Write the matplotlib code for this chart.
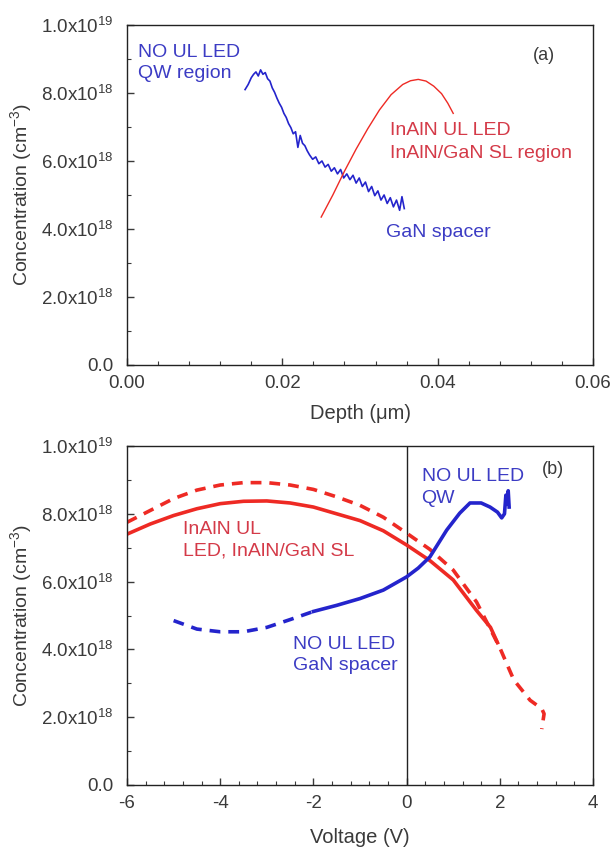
import numpy as np
import matplotlib.pyplot as plt
import matplotlib as mpl
from matplotlib.ticker import FuncFormatter, MultipleLocator

# ======================
# 全局风格
# ======================
mpl.rcParams["font.family"] = ["Liberation Sans", "DejaVu Sans"]
mpl.rcParams["mathtext.fontset"] = "custom"
mpl.rcParams["mathtext.rm"] = "Liberation Sans"
mpl.rcParams["mathtext.it"] = "Liberation Sans:italic"
mpl.rcParams["font.size"] = 13
mpl.rcParams["axes.linewidth"] = 1.0
mpl.rcParams["axes.unicode_minus"] = False

# ======================
# 数据 (a) depth profile
# ======================
depth_noul = [0.0152, 0.0156, 0.0160, 0.0163, 0.0166, 0.0169, 0.0172, 0.0175, 0.0178, 0.0181,
              0.0184, 0.0187, 0.0190, 0.0193, 0.0196, 0.0199, 0.0202, 0.0205, 0.0208, 0.0211,
              0.0214, 0.0217, 0.0220, 0.0223, 0.0226, 0.0229, 0.0232, 0.0235, 0.0239, 0.0243,
              0.0247, 0.0251, 0.0255, 0.0259, 0.0263, 0.0267, 0.0271, 0.0275, 0.0279, 0.0283,
              0.0287, 0.0291, 0.0295, 0.0299, 0.0303, 0.0307, 0.0311, 0.0315, 0.0319, 0.0323,
              0.0327, 0.0331, 0.0335, 0.0339, 0.0343, 0.0347, 0.0351, 0.0354, 0.0357]
conc_noul = [8.10, 8.25, 8.45, 8.55, 8.62, 8.50, 8.68, 8.55, 8.60, 8.42,
             8.35, 8.15, 8.02, 7.85, 7.70, 7.58, 7.40, 7.28, 7.10, 6.98,
             6.80, 6.86, 6.40, 6.75, 6.52, 6.45, 6.30, 6.18, 6.05, 6.12,
             5.92, 6.00, 5.82, 5.90, 5.70, 5.80, 5.62, 5.75, 5.50, 5.62,
             5.45, 5.58, 5.35, 5.50, 5.25, 5.38, 5.10, 5.25, 4.98, 5.12,
             4.85, 5.00, 4.75, 4.92, 4.65, 4.85, 4.55, 4.95, 4.60]

depth_inaln = [0.0250, 0.0265, 0.0280, 0.0295, 0.0310, 0.0325, 0.0340, 0.0355,
               0.0365, 0.0375, 0.0385, 0.0395, 0.0405, 0.0413, 0.0420]
conc_inaln = [4.35, 5.00, 5.70, 6.35, 6.95, 7.50, 7.95, 8.25,
              8.36, 8.40, 8.35, 8.20, 7.98, 7.70, 7.40]

# ======================
# 数据 (b) C-V profile
# ======================
v_inaln = [-6.0, -5.5, -5.0, -4.5, -4.0, -3.5, -3.0, -2.5, -2.0, -1.5,
           -1.0, -0.5, 0.0, 0.5, 1.0, 1.5, 1.8, 1.95]
c_inaln = [7.40, 7.70, 7.95, 8.15, 8.30, 8.37, 8.38, 8.32, 8.20, 8.00,
           7.80, 7.50, 7.08, 6.62, 6.05, 5.15, 4.65, 4.20]

v_inaln_d = [-6.0, -5.5, -5.0, -4.5, -4.0, -3.5, -3.0, -2.5, -2.0, -1.5,
             -1.0, -0.5, 0.0, 0.5, 1.0, 1.5, 2.0, 2.3, 2.65, 2.9, 2.95, 2.9]
c_inaln_d = [7.75, 8.10, 8.45, 8.70, 8.85, 8.92, 8.92, 8.85, 8.72, 8.50,
             8.25, 7.90, 7.43, 6.95, 6.34, 5.40, 4.05, 3.10, 2.50, 2.25, 2.10, 1.65]

v_noul_d = [-5.0, -4.5, -4.0, -3.5, -3.0, -2.5, -2.0]
c_noul_d = [4.85, 4.60, 4.52, 4.52, 4.65, 4.88, 5.12]

v_noul = [-2.0, -1.5, -1.0, -0.5, 0.0, 0.25, 0.5, 0.86, 1.14, 1.36,
          1.6, 1.79, 1.95, 2.04, 2.1, 2.13, 2.15, 2.18, 2.2]
c_noul = [5.12, 5.30, 5.50, 5.75, 6.14, 6.40, 6.73, 7.52, 8.02, 8.32,
          8.32, 8.20, 8.05, 7.88, 8.00, 8.55, 8.30, 8.68, 8.20]

blue = "#2424CC"
red = "#EE2A24"
blue_txt = "#3C3CC4"
red_txt = "#D43A48"
tick_col = "#3a3a3a"


def sci_fmt(v, pos):
    if abs(v) < 1e10:
        return "0.0"
    if v < 0:
        return ""
    e = int(np.floor(np.log10(v) + 1e-9))
    m = v / 10 ** e
    return r"%.1fx10$^{%d}$" % (m, e)


def style_axis(ax):
    ax.tick_params(which="both", direction="in", top=False, right=False,
                   colors=tick_col, labelcolor=tick_col, labelsize=13.5)
    ax.tick_params(which="major", length=5, width=1)
    ax.tick_params(which="minor", length=3, width=0.8)
    ax.tick_params(axis="x", pad=7)
    ax.tick_params(axis="y", pad=10)
    for s in ax.spines.values():
        s.set_color("#222222")
    ax.set_ylim(0, 1e19)
    ax.yaxis.set_major_locator(MultipleLocator(2e18))
    ax.yaxis.set_minor_locator(MultipleLocator(1e18))
    ax.yaxis.set_major_formatter(FuncFormatter(sci_fmt))
    ax.yaxis.offsetText.set_visible(False)
    ax.set_ylabel("Concentration (cm$^{-3}$)", fontsize=14, color=tick_col)
    ax.yaxis.set_label_coords(-0.2, 0.5)


fig = plt.figure(figsize=(6.13, 8.47), dpi=100)

# ======================
# (a)
# ======================
ax1 = fig.add_axes([0.2072, 0.5691, 0.7602, 0.4014])
ax1.plot(depth_noul, np.array(conc_noul) * 1e18, color=blue, lw=1.2)
ax1.plot(depth_inaln, np.array(conc_inaln) * 1e18, color=red, lw=1.0)
ax1.set_xlim(0, 0.06)
ax1.xaxis.set_major_locator(MultipleLocator(0.02))
ax1.xaxis.set_minor_locator(MultipleLocator(0.004))
ax1.xaxis.set_major_formatter(FuncFormatter(lambda v, p: "%.2f" % v))
style_axis(ax1)
ax1.set_xlabel("Depth (\u03bcm)", fontsize=14.5, color=tick_col)
ax1.xaxis.set_label_coords(0.5, -0.115)

ax1.text(0.024, 0.945, "NO UL LED\nQW region", transform=ax1.transAxes, color=blue_txt,
         fontsize=14, va="top", ha="left", linespacing=1.35)
ax1.text(0.87, 0.935, "(a)", transform=ax1.transAxes, color=tick_col, fontsize=13, va="top")
ax1.text(0.565, 0.715, "InAlN UL LED\nInAlN/GaN SL region", transform=ax1.transAxes,
         color=red_txt, fontsize=14, va="top", ha="left", linespacing=1.45)
ax1.text(0.555, 0.415, "GaN spacer", transform=ax1.transAxes, color=blue_txt,
         fontsize=14, va="top", ha="left")

# ======================
# (b)
# ======================
ax2 = fig.add_axes([0.2072, 0.0732, 0.7602, 0.4002])
ax2.axvline(0, color="#222222", lw=1.0)
ax2.plot(v_inaln_d, np.array(c_inaln_d) * 1e18, color=red, lw=2.6, ls=(0, (3.0, 2.2)))
ax2.plot(v_inaln, np.array(c_inaln) * 1e18, color=red, lw=2.6)
ax2.plot(v_noul_d, np.array(c_noul_d) * 1e18, color=blue, lw=2.6, ls=(0, (3.0, 2.2)))
ax2.plot(v_noul, np.array(c_noul) * 1e18, color=blue, lw=2.6)
ax2.set_xlim(-6, 4)
ax2.xaxis.set_major_locator(MultipleLocator(2))
ax2.xaxis.set_minor_locator(MultipleLocator(0.4))
style_axis(ax2)
ax2.set_xlabel("Voltage (V)", fontsize=14.5, color=tick_col)
ax2.xaxis.set_label_coords(0.5, -0.127)

ax2.text(0.632, 0.935, "NO UL LED\nQW", transform=ax2.transAxes, color=blue_txt,
         fontsize=14, va="top", ha="left", linespacing=1.35)
ax2.text(0.89, 0.955, "(b)", transform=ax2.transAxes, color=tick_col, fontsize=13, va="top")
ax2.text(0.12, 0.78, "InAlN UL\nLED, InAlN/GaN SL", transform=ax2.transAxes, color=red_txt,
         fontsize=14, va="top", ha="left", linespacing=1.35)
ax2.text(0.357, 0.44, "NO UL LED\nGaN spacer", transform=ax2.transAxes, color=blue_txt,
         fontsize=14, va="top", ha="left", linespacing=1.35)

plt.savefig("out.png", dpi=100)
